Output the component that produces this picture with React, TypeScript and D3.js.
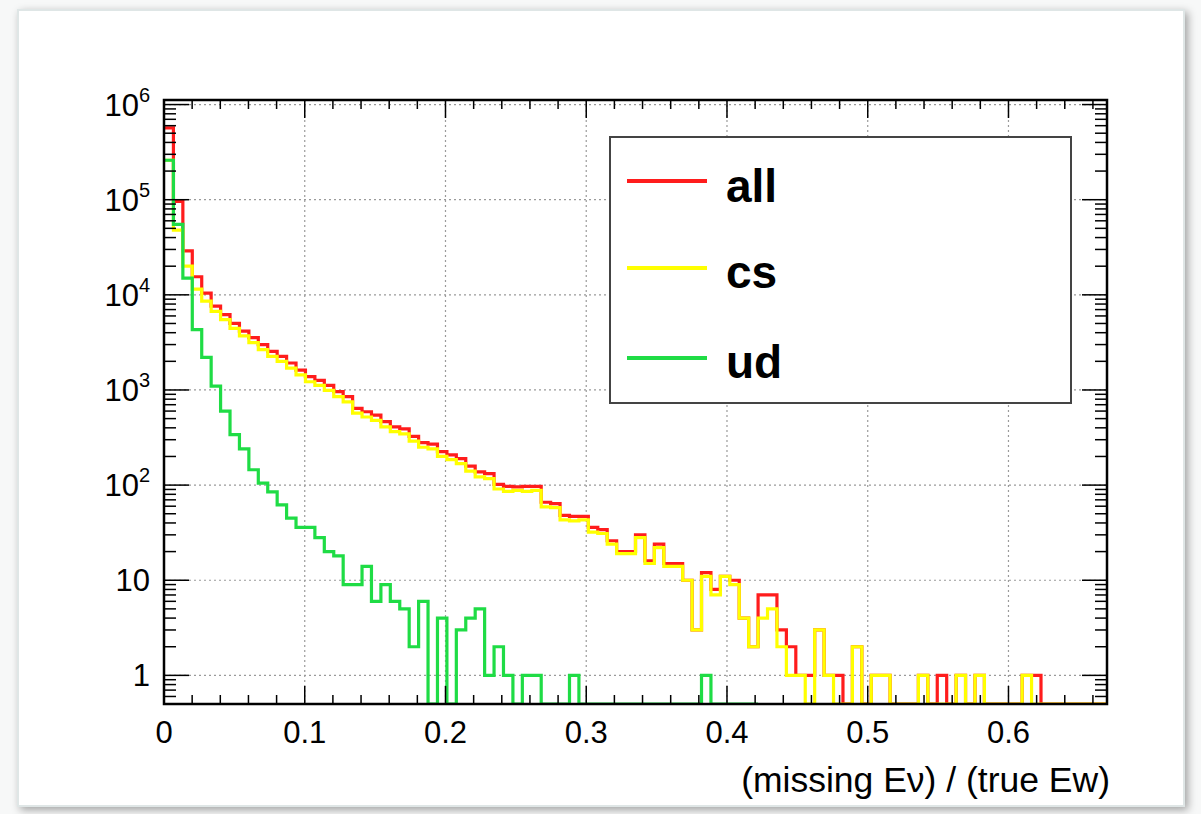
import React, { useEffect, useRef } from 'react';
import * as d3 from 'd3';

// histogram binning (x in units of missing E / true E)
const binWidth = 0.0067;

// entries per bin
const allCounts = [
  570000, 96000, 29000, 15500, 10400, 7600, 6200, 5000, 4150, 3550,
  3000, 2550, 2250, 1920, 1620, 1380, 1260, 1120, 960, 850,
  640, 590, 545, 465, 410, 390, 325, 280, 270, 225,
  208, 190, 158, 138, 132, 102, 97, 96, 97, 97,
  66, 64, 48, 47, 47, 36, 34, 26, 20, 20,
  30, 16, 24, 15, 15, 10, 3, 12, 8, 11,
  10, 4, 2, 7, 7, 3, 2, 1, 1, 3,
  1, 1, 0, 2, 0, 1, 1, 0, 0, 0,
  1, 0, 1, 0, 1, 0, 1, 0, 0, 0,
  0, 1, 1, 0, 0, 0, 0, 0, 0, 0,
];

const csCounts = [
  260000, 48000, 20000, 11500, 8600, 6700, 5500, 4450, 3700, 3150,
  2650, 2250, 2000, 1700, 1440, 1220, 1120, 990, 850, 750,
  570, 520, 480, 410, 365, 345, 290, 250, 240, 200,
  185, 168, 140, 122, 117, 91, 86, 88, 86, 88,
  59, 58, 43, 42, 43, 32, 31, 24, 19, 19,
  28, 15, 22, 14, 14, 10, 3, 11, 7, 11,
  9, 4, 2, 4, 5, 2, 1, 1, 0, 3,
  1, 0, 0, 2, 0, 1, 1, 0, 0, 0,
  1, 0, 0, 0, 1, 0, 1, 0, 0, 0,
  0, 1, 0, 0, 0, 0, 0, 0, 0, 0,
];

const udCounts = [
  260000, 55000, 15000, 4300, 2200, 1100, 600, 340, 240, 145,
  105, 85, 62, 45, 36, 36, 28, 20, 18, 9,
  9, 14, 6, 9, 6, 5, 2, 6, 0, 4,
  0, 3, 4, 5, 1, 2, 1, 0, 1, 1,
  0, 0, 0, 1, 0, 0, 0, 0, 0, 0,
  0, 0, 0, 0, 0, 0, 0, 1, 0, 0,
  0, 0, 0,
];

const xTickValues = [0, 0.1, 0.2, 0.3, 0.4, 0.5, 0.6];
const xTickLabels = ['0', '0.1', '0.2', '0.3', '0.4', '0.5', '0.6'];
const yDecadeExponents = [0, 1, 2, 3, 4, 5, 6];
const legendLabels = ['all', 'cs', 'ud'];
const seriesColors = ['#ff1c1c', '#ffff00', '#1fdc45'];
const xTitle = '(missing E\u03bd) / (true Ew)';

const FONT = '"Liberation Sans", Arial, Helvetica, sans-serif';

function App() {
  const ref = useRef<SVGSVGElement>(null);

  useEffect(() => {
    const svg = d3.select(ref.current);
    svg.selectAll('*').remove();

    const left = 164, right = 1107, top = 100, bottom = 704;
    const x = d3.scaleLinear().domain([0, 0.67]).range([left, right]);
    const y = d3.scaleLog().domain([0.5, 1.117e6]).range([bottom, top]);

    const defs = svg.append('defs');
    const shadow = defs.append('filter').attr('id', 'shadow')
      .attr('x', '-5%').attr('y', '-5%').attr('width', '110%').attr('height', '110%');
    shadow.append('feDropShadow').attr('dx', 3).attr('dy', 3).attr('stdDeviation', 4)
      .attr('flood-color', '#000').attr('flood-opacity', 0.35);
    defs.append('clipPath').attr('id', 'frame-clip')
      .append('rect').attr('x', left).attr('y', top).attr('width', right - left).attr('height', bottom - top);

    // page + card
    svg.append('rect').attr('width', 1201).attr('height', 814).attr('fill', '#f7f8f8');
    svg.append('rect').attr('x', 18).attr('y', 10).attr('width', 1166).attr('height', 796)
      .attr('fill', '#fff').attr('stroke', '#dfe6e6').attr('stroke-width', 2)
      .attr('filter', 'url(#shadow)');

    // grid
    const grid = svg.append('g').attr('stroke', '#9a9a9a').attr('stroke-width', 1.2)
      .attr('stroke-dasharray', '2,3');
    xTickValues.filter(v => v > 0).forEach(v => {
      grid.append('line').attr('x1', x(v)).attr('x2', x(v)).attr('y1', top).attr('y2', bottom);
    });
    yDecadeExponents.forEach(e => {
      const yy = y(Math.pow(10, e));
      grid.append('line').attr('x1', left).attr('x2', right).attr('y1', yy).attr('y2', yy);
    });

    // histograms
    const histPath = (counts: number[]) => {
      const pts: [number, number][] = counts.map((c, i) => [x(i * binWidth), c > 0 ? y(c) : bottom]);
      pts.push([x(counts.length * binWidth), pts[pts.length - 1][1]]);
      return d3.line().curve(d3.curveStepAfter)(pts);
    };
    const hists = svg.append('g').attr('clip-path', 'url(#frame-clip)');
    [allCounts, csCounts, udCounts].forEach((counts, i) => {
      hists.append('path').attr('d', histPath(counts)).attr('fill', 'none')
        .attr('stroke', seriesColors[i]).attr('stroke-width', 3.2);
    });

    // ticks
    const ticks = svg.append('g').attr('stroke', '#000').attr('stroke-width', 1.5);
    d3.range(0, 0.67, 0.02).forEach(v => {
      const major = Math.round(v * 50) % 5 === 0;
      const len = major ? 18 : 9;
      ticks.append('line').attr('x1', x(v)).attr('x2', x(v)).attr('y1', bottom).attr('y2', bottom - len);
      ticks.append('line').attr('x1', x(v)).attr('x2', x(v)).attr('y1', top).attr('y2', top + len);
    });
    const yMinor: number[] = [];
    [-1, 0, 1, 2, 3, 4, 5].forEach(e => {
      d3.range(2, 10).forEach(k => {
        const v = k * Math.pow(10, e);
        if (v >= 0.5 && v <= 1.117e6) yMinor.push(v);
      });
    });
    yMinor.forEach(v => {
      ticks.append('line').attr('x1', left).attr('x2', left + 12).attr('y1', y(v)).attr('y2', y(v));
      ticks.append('line').attr('x1', right).attr('x2', right - 12).attr('y1', y(v)).attr('y2', y(v));
    });
    yDecadeExponents.forEach(e => {
      const yy = y(Math.pow(10, e));
      ticks.append('line').attr('x1', left).attr('x2', left + 25).attr('y1', yy).attr('y2', yy);
      ticks.append('line').attr('x1', right).attr('x2', right - 25).attr('y1', yy).attr('y2', yy);
    });

    // frame
    svg.append('rect').attr('x', left).attr('y', top).attr('width', right - left).attr('height', bottom - top)
      .attr('fill', 'none').attr('stroke', '#000').attr('stroke-width', 2.5);

    // x labels
    xTickValues.forEach((v, i) => {
      svg.append('text').attr('x', x(v)).attr('y', 743).attr('text-anchor', 'middle')
        .attr('font-family', FONT).attr('font-size', 31).text(xTickLabels[i]);
    });
    svg.append('text').attr('x', 1110).attr('y', 792).attr('text-anchor', 'end')
      .attr('font-family', FONT).attr('font-size', 35.5).text(xTitle);

    // y labels
    yDecadeExponents.forEach(e => {
      const yy = y(Math.pow(10, e));
      const t = svg.append('text').attr('x', 150).attr('y', yy + 11).attr('text-anchor', 'end')
        .attr('font-family', FONT).attr('font-size', 31);
      if (e === 0) t.text('1');
      else if (e === 1) t.text('10');
      else {
        t.append('tspan').text('10');
        t.append('tspan').attr('dy', -14).attr('font-size', 20).text(String(e));
      }
    });

    // legend
    const lg = svg.append('g');
    lg.append('rect').attr('x', 610).attr('y', 137).attr('width', 461).attr('height', 266)
      .attr('fill', '#fff').attr('stroke', '#444').attr('stroke-width', 2);
    const lineYs = [181, 268, 358];
    const textYs = [202, 288, 378];
    legendLabels.forEach((label, i) => {
      lg.append('line').attr('x1', 627).attr('x2', 707).attr('y1', lineYs[i]).attr('y2', lineYs[i])
        .attr('stroke', seriesColors[i]).attr('stroke-width', 4);
      lg.append('text').attr('x', 726).attr('y', textYs[i]).attr('font-family', FONT)
        .attr('font-weight', 'bold').attr('font-size', 46).text(label);
    });
  }, []);

  return (
    <svg ref={ref} width={1201} height={814} style={{ position: 'absolute', left: 0, top: 0 }} />
  );
}

export default App;
